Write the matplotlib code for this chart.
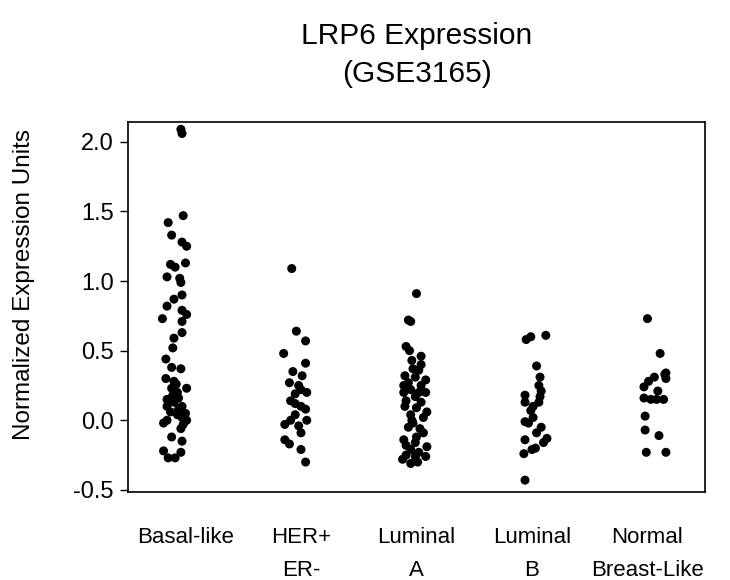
import matplotlib
matplotlib.use("Agg")
import matplotlib.pyplot as plt
import numpy as np

plt.rcParams['font.family'] = ['Liberation Sans', 'DejaVu Sans']

categories = ["Basal-like", "HER+\nER-", "Luminal\nA", "Luminal\nB", "Normal\nBreast-Like"]

# values; *_dx is the horizontal scatter within each column
basal_y = [2.09, 2.06, 1.47, 1.42, 1.33, 1.28, 1.25, 1.12, 1.10, 1.13, 1.03, 1.02, 0.99,
           0.90, 0.87, 0.82, 0.79, 0.76, 0.73, 0.71, 0.63, 0.59, 0.52, 0.44, 0.38, 0.37,
           0.30, 0.28, 0.26, 0.23, 0.23, 0.20, 0.18, 0.15, 0.16, 0.13, 0.10, 0.10, 0.08,
           0.06, 0.05, 0.04, 0.02, 0.00, -0.02, -0.00, -0.03, -0.06, -0.12, -0.15, -0.22,
           -0.27, -0.27, -0.23]
basal_dx = [-0.04, -0.03, -0.02, -0.15, -0.12, -0.03, 0.01, -0.13, -0.09, 0.00, -0.16, -0.05,
            -0.04, -0.03, -0.10, -0.16, -0.03, 0.01, -0.20, -0.03, -0.03, -0.10, -0.11, -0.17,
            -0.12, -0.04, -0.17, -0.10, -0.08, -0.12, 0.01, -0.07, -0.11, -0.16, -0.06, -0.10,
            -0.16, -0.03, -0.06, -0.13, 0.00, -0.07, -0.03, 0.01, -0.19, -0.16, -0.02, -0.04,
            -0.12, -0.03, -0.19, -0.15, -0.09, -0.04]

her_y = [1.09, 0.64, 0.57, 0.48, 0.41, 0.35, 0.32, 0.27, 0.25, 0.22, 0.20, 0.19, 0.14,
         0.12, 0.10, 0.08, 0.04, 0.00, -0.03, -0.00, -0.04, -0.09, -0.14, -0.17, -0.21, -0.30]
her_dx = [-0.08, -0.04, 0.04, -0.15, 0.04, -0.07, 0.01, -0.10, -0.02, 0.00, 0.05, -0.05, -0.09,
          -0.05, 0.00, 0.04, -0.05, -0.09, -0.14, 0.05, -0.02, 0.00, -0.14, -0.10, 0.00, 0.04]

luma_y = [0.91, 0.72, 0.71, 0.53, 0.50, 0.46, 0.43, 0.40, 0.37, 0.36, 0.32, 0.29, 0.31,
          0.27, 0.25, 0.25, 0.22, 0.20, 0.20, 0.20, 0.17, 0.14, 0.13, 0.10, 0.09, 0.06,
          0.04, 0.02, 0.00, -0.02, -0.05, -0.06, -0.09, -0.12, -0.14, -0.16, -0.18, -0.19,
          -0.21, -0.23, -0.25, -0.26, -0.28, -0.26, -0.31, -0.30]
luma_dx = [0.00, -0.07, -0.05, -0.09, -0.06, 0.04, -0.04, 0.04, -0.03, 0.02, -0.10, 0.08, -0.01,
           -0.07, -0.11, 0.04, -0.05, -0.11, 0.08, 0.02, -0.01, -0.09, 0.04, -0.10, 0.00, 0.09,
           -0.05, 0.06, -0.04, -0.03, -0.07, 0.03, 0.06, 0.00, -0.11, -0.01, -0.09, 0.09,
           -0.05, 0.02, -0.09, -0.01, -0.12, 0.08, -0.05, 0.01]

lumb_y = [0.58, 0.60, 0.61, 0.39, 0.31, 0.25, 0.21, 0.18, 0.17, 0.13, 0.13, 0.10, 0.07,
          0.02, -0.01, -0.02, -0.05, -0.09, -0.14, -0.13, -0.16, -0.20, -0.21, -0.24, -0.43]
lumb_dx = [-0.05, -0.01, 0.12, 0.04, 0.07, 0.06, 0.08, -0.06, 0.07, -0.06, 0.06, 0.01, -0.01,
           0.01, -0.06, -0.03, 0.08, 0.04, -0.06, 0.13, 0.10, 0.03, 0.00, -0.07, -0.06]

norm_y = [0.73, 0.48, 0.34, 0.33, 0.31, 0.30, 0.28, 0.24, 0.21, 0.16, 0.15, 0.15, 0.15,
          0.03, -0.07, -0.11, -0.23, -0.23]
norm_dx = [0.00, 0.11, 0.16, 0.15, 0.06, 0.16, 0.01, -0.03, 0.09, -0.03, 0.03, 0.08, 0.14,
           -0.02, -0.02, 0.10, -0.01, 0.16]

groups = [(basal_y, basal_dx), (her_y, her_dx), (luma_y, luma_dx),
          (lumb_y, lumb_dx), (norm_y, norm_dx)]

fig = plt.figure(figsize=(7.3, 5.8), dpi=100)
ax = fig.add_axes([0.175, 0.152, 0.791, 0.638])

for i, (ys, dx) in enumerate(groups):
    xs = i + np.array(dx)
    ax.scatter(xs, ys, s=42, color='black', edgecolors='none', zorder=3)

ax.set_xlim(-0.5, 4.5)
ax.set_ylim(-0.514, 2.144)
ax.set_yticks([-0.5, 0.0, 0.5, 1.0, 1.5, 2.0])
ax.set_yticklabels(['-0.5', '0.0', '0.5', '1.0', '1.5', '2.0'])
ax.set_xticks(range(len(categories)))
ax.set_xticklabels(categories, fontsize=16, linespacing=1.75, va='top')

ax.tick_params(axis='y', direction='out', length=6, width=1, labelsize=17, pad=4)
ax.tick_params(axis='x', length=0, pad=25)
for sp in ax.spines.values():
    sp.set_linewidth(1.2)

ax.set_ylabel('Normalized Expression Units', fontsize=17.5)
ax.yaxis.set_label_coords(-0.16, 0.56)
fig.text(0.571, 0.905, 'LRP6 Expression\n(GSE3165)', fontsize=21.5, ha='center', va='center',
         linespacing=1.45)

fig.savefig('out.png', dpi=100)
